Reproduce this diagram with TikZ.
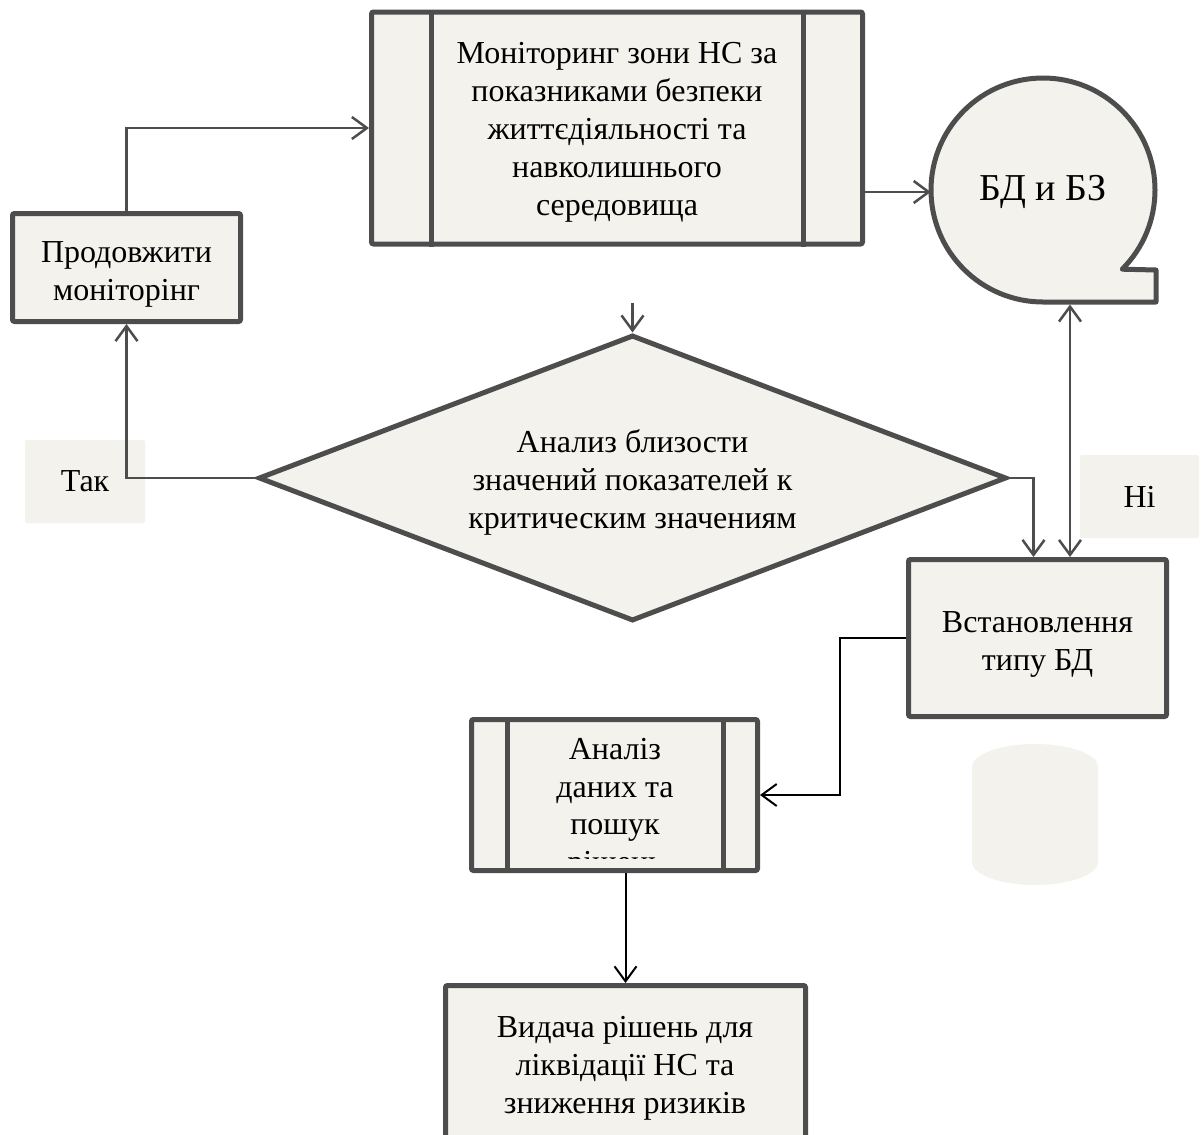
\documentclass[tikz,border=0pt]{standalone}
\usepackage{fontspec}
\setmainfont{Liberation Serif}
\usetikzlibrary{arrows.meta,shapes.geometric,calc}
\definecolor{edge}{HTML}{4D4D4D}
\definecolor{paper}{HTML}{F3F2EC}
\begin{document}
\begin{tikzpicture}[x=1pt,y=-1pt,
  box/.style={draw=edge, line width=5pt, fill=paper, rounded corners=2pt, inner sep=0pt},
  txt/.style={align=center, inner sep=0pt, font=\fontsize{32}{38}\selectfont},
  tag/.style={fill=paper, rounded corners=2pt, inner sep=0pt, font=\fontsize{32}{38}\selectfont},
  bar/.style={draw=edge, line width=5pt},
  link/.style={draw=edge, line width=2.5pt, -{Straight Barb[length=15pt,width=22pt]}},
  blink/.style={draw=black, line width=2pt, -{Straight Barb[length=15pt,width=22pt]}},
]
\useasboundingbox (0,0) rectangle (1203,1135);
\clip (0,0) rectangle (1203,1135);

% monitoring process (predefined process box)
\node[box, minimum width=491, minimum height=232] (mon) at (617,128) {};
\draw[bar] ($(mon.north west)+(62,0)$) -- ($(mon.south west)+(62,0)$);
\draw[bar] ($(mon.north east)+(-62,0)$) -- ($(mon.south east)+(-62,0)$);
\node[txt] (montext) at (617,132) {Моніторинг зони НС за\\показниками безпеки\\життєдіяльності та\\навколишнього\\середовища};

% continue monitoring
\node[box, minimum width=228, minimum height=108] (prod) at (126.5,267.5) {};
\node[txt] (prodtext) at (126.5,274) {Продовжити\\моніторінг};

% database and knowledge base (sequential storage symbol)
\draw[edge, line width=5pt, fill=paper, line join=round]
  (1122.2,269.2) arc[start angle=45, end angle=-270, radius=112]
  -- (1156,302) -- (1156,270) -- cycle;
\node[circle, minimum size=224, inner sep=0pt, font=\fontsize{38}{44}\selectfont] (db) at (1043,192) {БД и БЗ};
\coordinate (dbtail) at (1070,304.5);

% decision
\node[diamond, draw=edge, fill=paper, line width=5pt, minimum width=748, minimum height=286, inner sep=0pt] (dia) at (632.5,478) {};
\node[txt] (diatext) at (632.5,482) {Анализ близости\\значений показателей к\\критическим значениям};
\coordinate (cue) at (632.5,303);

% branch labels
\node[tag, minimum width=120, minimum height=83] (yes) at (85,481.5) {Так};
\node[tag, minimum width=119, minimum height=83] (no) at (1139.5,496.5) {Ні};

% database type
\node[box, minimum width=258, minimum height=157] (vst) at (1037.5,638) {};
\node[txt] (vsttext) at (1037.5,644) {Встановлення\\типу БД};

% data analysis (predefined process box)
\node[box, minimum width=286, minimum height=151] (anal) at (614.5,795) {};
\draw[bar] ($(anal.north west)+(38,0)$) -- ($(anal.south west)+(38,0)$);
\draw[bar] ($(anal.north east)+(-37,0)$) -- ($(anal.south east)+(-37,0)$);
\begin{scope}
  \clip (509,720) rectangle (721,858);
  \node[txt, font=\fontsize{32}{37.5}\selectfont] (analtext) at (615,809) {Аналіз\\даних та\\пошук\\рішень};
\end{scope}

% storage symbol without outline
\fill[paper] (972,767) -- (972,862)
  arc[start angle=180, end angle=0, x radius=63, y radius=23]
  -- (1098,767)
  arc[start angle=0, end angle=-180, x radius=63, y radius=23] -- cycle;

% output of decisions
\node[box, minimum width=360, minimum height=200] (vyd) at (625.5,1085.5) {};
\node[txt] (vydtext) at (625,1068) {Видача рішень для\\ліквідації НС та\\зниження ризиків};

% connectors
\draw[link] (prod.north) |- (mon.west);
\draw[link] (mon.east |- db.west) -- (db.west);
\draw[link] (cue) -- (dia.north);
\draw[link] (dia.west) -| (prod.south);
\draw[link] (dia.east) -| ($(vst.north)+(-4,0)$);
\draw[draw=edge, line width=2.5pt, {Straight Barb[length=15pt,width=22pt]}-{Straight Barb[length=15pt,width=22pt]}] (dbtail) -- (dbtail |- vst.north);
\draw[blink] (vst.west) -- ++(-66,0) |- (anal.east);
\draw[blink] (vyd.north |- anal.south) -- (vyd.north);
\end{tikzpicture}
\end{document}
